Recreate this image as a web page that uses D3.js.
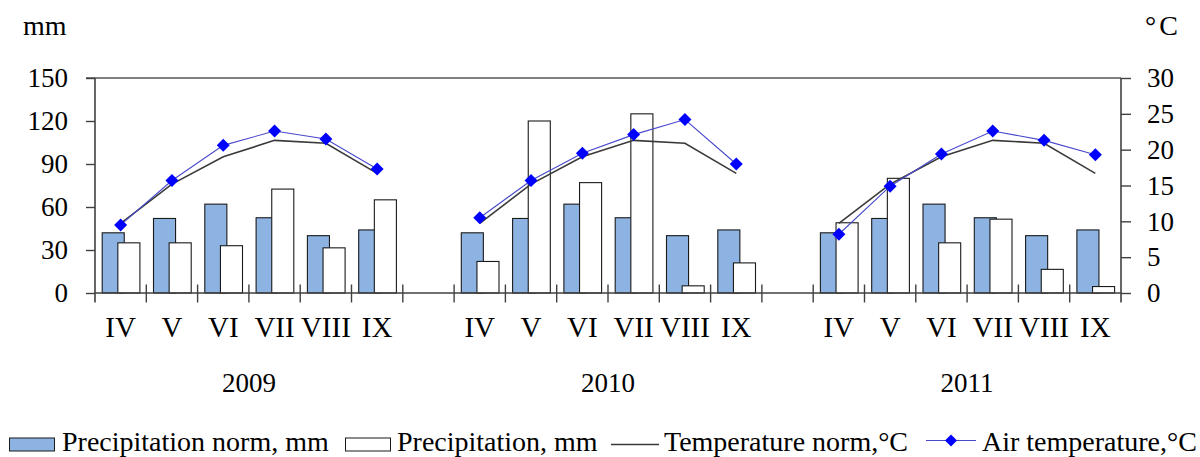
<!DOCTYPE html>
<html>
<head>
<meta charset="utf-8">
<script src="https://cdn.jsdelivr.net/npm/d3@7/dist/d3.min.js"></script>
<style>
  html, body { margin: 0; padding: 0; background: #fff; }
  svg { display: block; }
  text { font-family: "Liberation Serif", "Times New Roman", serif; fill: #000; }
</style>
</head>
<body>
<svg id="chart" width="1200" height="457"></svg>
<script>
// ---------- data ----------
const years = ["2009", "2010", "2011"];
const months = ["IV", "V", "VI", "VII", "VIII", "IX"];
const precipNorm = [42, 52, 62, 52.5, 40, 44];           // same norm each year
const precip2009 = [35, 35, 33, 72.5, 31.5, 65];
const precip2010 = [22, 120, 77, 125, 5, 21];
const precip2011 = [49, 80, 35, 51.5, 16.5, 4.5];
const tempNorm = [9.7, 15.2, 19.0, 21.3, 20.9, 16.7];     // same norm each year
const air2009 = [9.5, 15.7, 20.6, 22.6, 21.5, 17.3];
const air2010 = [10.5, 15.7, 19.5, 22.1, 24.2, 18.0];
const air2011 = [8.2, 14.9, 19.4, 22.6, 21.3, 19.3];
const mmTicks = [0, 30, 60, 90, 120, 150];
const cTicks = [0, 5, 10, 15, 20, 25, 30];
const legendLabels = ["Precipitation norm, mm", "Precipitation, mm", "Temperature norm,°C", "Air temperature,°C"];

const precipByYear = [precip2009, precip2010, precip2011];
const airByYear = [air2009, air2010, air2011];

// ---------- layout ----------
const svg = d3.select("#chart");
const L = 95, R = 1121, T = 78, B = 293;
const nSlots = years.length * (months.length + 1) - 1; // 20 (one empty slot between years)
const slotIndex = (yi, mi) => yi * (months.length + 1) + mi;

const x = d3.scaleBand().domain(d3.range(nSlots)).range([L, R]).padding(0);
const yL = d3.scaleLinear().domain([0, 150]).range([B, T]);
const yR = d3.scaleLinear().domain([0, 30]).range([B, T]);
const sw = x.bandwidth();
const barW = sw * 0.43;
const barOff = sw * 0.305;
const barStart = (sw - barOff - barW) / 2 + 0.4;

const blueFill = "#8DB3E2";
const axisCol = "#404040";

// rows for bars
const rows = [];
years.forEach((yr, yi) => months.forEach((m, mi) => {
  rows.push({ slot: slotIndex(yi, mi), norm: precipNorm[mi], val: precipByYear[yi][mi] });
}));

// top border
svg.append("line").attr("x1", L - 9).attr("x2", R).attr("y1", T).attr("y2", T)
  .attr("stroke", "#808080").attr("stroke-width", 2.2);

// bars: norm (blue) then precipitation (white) on top
const gb = svg.append("g");
gb.selectAll("rect.norm").data(rows).join("rect").attr("class", "norm")
  .attr("x", d => x(d.slot) + barStart)
  .attr("y", d => yL(d.norm))
  .attr("width", barW)
  .attr("height", d => B - yL(d.norm))
  .attr("fill", blueFill).attr("stroke", "#1a1a1a").attr("stroke-width", 1.1);
gb.selectAll("rect.val").data(rows).join("rect").attr("class", "val")
  .attr("x", d => x(d.slot) + barStart + barOff)
  .attr("y", d => yL(d.val))
  .attr("width", barW)
  .attr("height", d => B - yL(d.val))
  .attr("fill", "#fff").attr("stroke", "#1a1a1a").attr("stroke-width", 1.1);

// axes
const axL = d3.axisLeft(yL).tickValues(mmTicks).tickSize(9).tickFormat("");
const gL = svg.append("g").attr("transform", `translate(${L},0)`).call(axL);
gL.select(".domain").remove();
gL.selectAll(".tick line").attr("stroke", axisCol).attr("stroke-width", 1.4);
svg.append("line").attr("x1", L).attr("x2", L).attr("y1", T).attr("y2", 302.5)
  .attr("stroke", axisCol).attr("stroke-width", 1.6);

const axR = d3.axisRight(yR).tickValues(cTicks).tickSize(10).tickFormat("");
const gR = svg.append("g").attr("transform", `translate(${R},0)`).call(axR);
gR.select(".domain").remove();
gR.selectAll(".tick line").attr("stroke", axisCol).attr("stroke-width", 1.4);
svg.append("line").attr("x1", R).attr("x2", R).attr("y1", T).attr("y2", 302.5)
  .attr("stroke", axisCol).attr("stroke-width", 1.6);

// x axis line and slot-boundary ticks
svg.append("line").attr("x1", L).attr("x2", R).attr("y1", B).attr("y2", B)
  .attr("stroke", axisCol).attr("stroke-width", 1.6);
const bounds = d3.range(1, nSlots).map(i => x(i));
svg.append("g").selectAll("line").data(bounds).join("line")
  .attr("x1", d => d).attr("x2", d => d).attr("y1", 284.5).attr("y2", 302.5)
  .attr("stroke", axisCol).attr("stroke-width", 1.4);

// tick labels
svg.append("g").selectAll("text").data(mmTicks).join("text")
  .attr("x", 68).attr("y", d => yL(d)).attr("dy", "0.34em")
  .attr("text-anchor", "end").attr("font-size", 27).text(d => d);
svg.append("g").selectAll("text").data(cTicks).join("text")
  .attr("x", 1147).attr("y", d => yR(d)).attr("dy", "0.34em")
  .attr("text-anchor", "start").attr("font-size", 27).text(d => d);

// axis titles
svg.append("text").attr("x", 23).attr("y", 35).attr("font-size", 28).text("mm");
const tC = svg.append("text").attr("x", 1145).attr("y", 35).attr("font-size", 28);
tC.append("tspan").text("°");
tC.append("tspan").attr("dx", 3).text("C");

// month labels
const monthRows = [];
years.forEach((yr, yi) => months.forEach((m, mi) => monthRows.push({ slot: slotIndex(yi, mi), m })));
svg.append("g").selectAll("text").data(monthRows).join("text")
  .attr("x", d => x(d.slot) + sw / 2).attr("y", 337)
  .attr("text-anchor", "middle").attr("font-size", 29).text(d => d.m);

// year labels
svg.append("g").selectAll("text").data(years).join("text")
  .attr("x", (d, i) => (x(slotIndex(i, 0)) + x(slotIndex(i, months.length - 1)) + sw) / 2)
  .attr("y", 392).attr("text-anchor", "middle").attr("font-size", 27).text(d => d);

// temperature lines
const lineGen = d3.line().x(d => x(d.slot) + sw / 2).y(d => yR(d.v));
years.forEach((yr, yi) => {
  const normPts = months.map((m, mi) => ({ slot: slotIndex(yi, mi), v: tempNorm[mi] }));
  const airPts = months.map((m, mi) => ({ slot: slotIndex(yi, mi), v: airByYear[yi][mi] }));
  svg.append("path").attr("d", lineGen(normPts)).attr("fill", "none")
    .attr("stroke", "#3a3a3a").attr("stroke-width", 1.6);
  svg.append("path").attr("d", lineGen(airPts)).attr("fill", "none")
    .attr("stroke", "#4848cc").attr("stroke-width", 1.1);
  svg.append("g").selectAll("path").data(airPts).join("path")
    .attr("transform", d => `translate(${x(d.slot) + sw / 2},${yR(d.v)})`)
    .attr("d", "M0,-6.5L6.5,0L0,6.5L-6.5,0Z").attr("fill", "#0000FF");
});

// legend
const lg = svg.append("g");
const ly = 444.5;
const lfs = 28;
lg.append("rect").attr("x", 9.5).attr("y", 438).attr("width", 45).attr("height", 13)
  .attr("fill", blueFill).attr("stroke", "#1a1a1a").attr("stroke-width", 1);
lg.append("text").attr("x", 62).attr("y", 451).attr("font-size", lfs).text(legendLabels[0]);
lg.append("rect").attr("x", 345.5).attr("y", 438).attr("width", 45).attr("height", 13)
  .attr("fill", "#fff").attr("stroke", "#1a1a1a").attr("stroke-width", 1);
lg.append("text").attr("x", 397).attr("y", 451).attr("font-size", lfs).text(legendLabels[1]);
lg.append("line").attr("x1", 611).attr("x2", 659).attr("y1", ly).attr("y2", ly)
  .attr("stroke", "#3a3a3a").attr("stroke-width", 1.4);
lg.append("text").attr("x", 664).attr("y", 451).attr("font-size", lfs).text(legendLabels[2]);
lg.append("line").attr("x1", 926).attr("x2", 976).attr("y1", ly - 4).attr("y2", ly - 4)
  .attr("stroke", "#4848cc").attr("stroke-width", 1.1);
lg.append("path").attr("transform", `translate(951,${ly - 4})`)
  .attr("d", "M0,-6L6,0L0,6L-6,0Z").attr("fill", "#0000FF");
lg.append("text").attr("x", 982).attr("y", 451).attr("font-size", lfs).text(legendLabels[3]);
</script>
</body>
</html>
